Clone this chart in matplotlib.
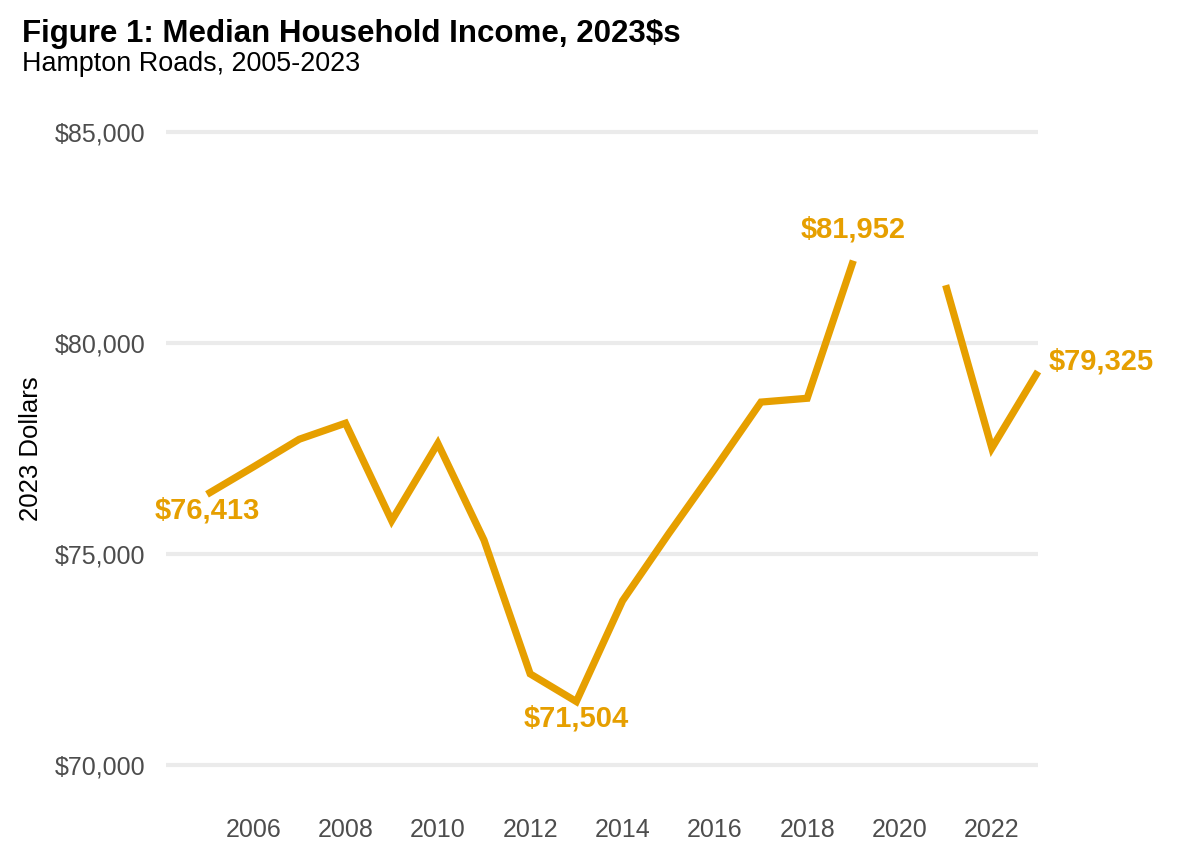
import matplotlib
matplotlib.use("Agg")
import matplotlib.pyplot as plt
import numpy as np

years = list(range(2005, 2024))
income = [76413, 77060, 77720, 78100, 75790, 77620, 75330, 72160, 71504, 73890,
          75480, 77020, 78600, 78690, 81952, np.nan, 81370, 77510, 79325]

label_years = [2005, 2013, 2019, 2023]
label_text = ["$76,413", "$71,504", "$81,952", "$79,325"]

y_ticks = [70000, 75000, 80000, 85000]
y_tick_labels = ["$70,000", "$75,000", "$80,000", "$85,000"]
x_ticks = [2006, 2008, 2010, 2012, 2014, 2016, 2018, 2020, 2022]

color = "#E69F00"
plt.rcParams['font.family'] = ['Liberation Sans', 'DejaVu Sans']

W, H = 1183, 861
fig = plt.figure(figsize=(W / 100, H / 100), dpi=100)
ax = fig.add_axes([166 / W, 1 - 800 / H, (1038 - 166) / W, (800 - 110) / H])

ax.set_xlim(2004.112, 2023)
ax.set_ylim(69171, 85521)

ax.set_yticks(y_ticks)
ax.set_yticklabels(y_tick_labels)
ax.set_xticks(x_ticks)
ax.set_xticklabels([str(x) for x in x_ticks])

ax.grid(axis='y', color='#EBEBEB', linewidth=3, zorder=0)
ax.grid(axis='x', visible=False)
for s in ax.spines.values():
    s.set_visible(False)
ax.tick_params(axis='both', length=0, labelsize=18, labelcolor='#4D4D4D')
ax.tick_params(axis='y', pad=15)
ax.tick_params(axis='x', pad=13)

ax.plot(years, income, color=color, linewidth=5.2, solid_capstyle='butt',
        solid_joinstyle='miter', zorder=3, clip_on=False)

offsets = {2005: (0, -16, 'center'), 2013: (0, -17, 'center'),
           2019: (0, 31, 'center'), 2023: (11, 10, 'left')}
for yr, txt in zip(label_years, label_text):
    val = income[years.index(yr)]
    dx, dy, ha = offsets[yr]
    ax.annotate(txt, xy=(yr, val), xytext=(dx, dy), textcoords='offset pixels',
                ha=ha, va='center', fontsize=21, fontweight='bold', color=color,
                annotation_clip=False)

ax.set_ylabel("2023 Dollars", fontsize=18.5, color='black')
ax.yaxis.set_label_coords((43 - 166) / (1038 - 166), (800 - 449) / (800 - 110))

fig.text(22 / W, 1 - 19 / H, "Figure 1: Median Household Income, 2023$s",
         fontsize=22.5, fontweight='bold', ha='left', va='top', color='black')
fig.text(22 / W, 1 - 51 / H, "Hampton Roads, 2005-2023",
         fontsize=19.4, ha='left', va='top', color='black')

fig.savefig("out.png", dpi=100, facecolor='white')
